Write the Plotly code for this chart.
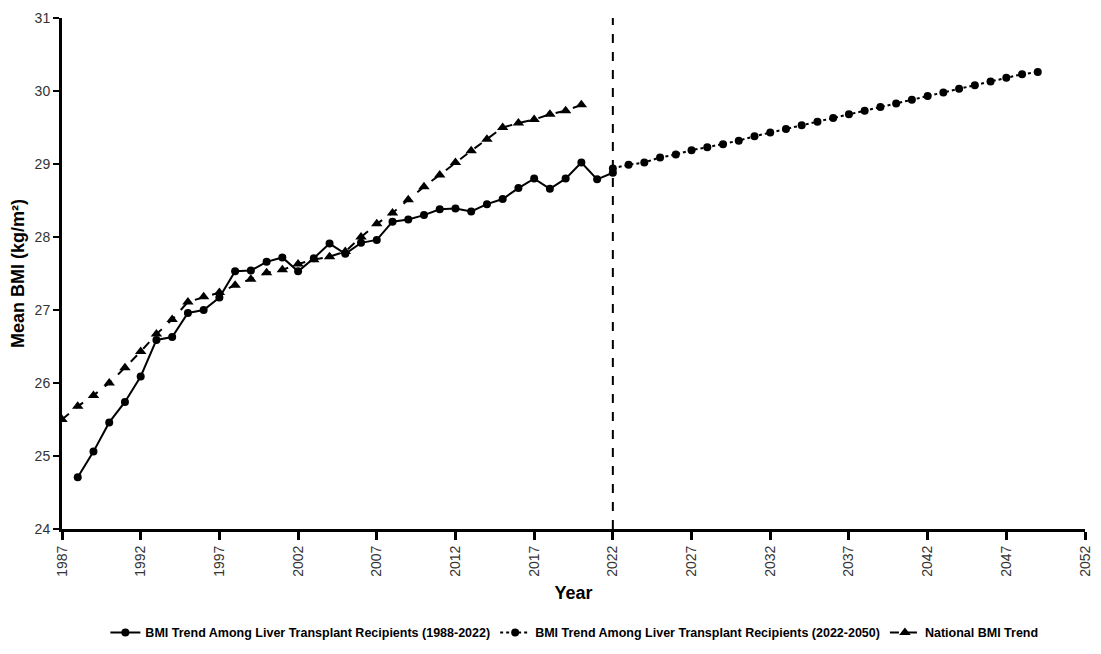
import plotly.graph_objects as go

# Liver transplant recipients (observed)
lt_years = list(range(1988, 2023))
lt_bmi = [24.71, 25.06, 25.46, 25.74, 26.09, 26.59, 26.63, 26.96, 27.00, 27.17,
          27.53, 27.54, 27.66, 27.72, 27.53, 27.71, 27.91, 27.77, 27.92, 27.96,
          28.21, 28.24, 28.30, 28.38, 28.39, 28.35, 28.45, 28.52, 28.67, 28.80,
          28.66, 28.80, 29.02, 28.79, 28.88]

# Projection
pr_years = list(range(2022, 2050))
pr_bmi = [28.94, 28.99, 29.02, 29.09, 29.13, 29.19, 29.23, 29.27, 29.32, 29.38,
          29.43, 29.48, 29.53, 29.58, 29.63, 29.68, 29.73, 29.78, 29.83, 29.88,
          29.93, 29.98, 30.03, 30.08, 30.13, 30.18, 30.23, 30.26]

# National trend
nat_years = list(range(1987, 2021))
nat_bmi = [25.50, 25.68, 25.83, 26.00, 26.21, 26.43, 26.67, 26.87, 27.11, 27.18,
           27.24, 27.34, 27.42, 27.51, 27.55, 27.63, 27.69, 27.73, 27.80, 28.00,
           28.18, 28.33, 28.51, 28.69, 28.85, 29.02, 29.18, 29.34, 29.50, 29.56,
           29.61, 29.68, 29.73, 29.81]

x_ticks = list(range(1987, 2053, 5))
y_ticks = list(range(24, 32))
cutoff_year = 2022

fig = go.Figure()
fig.add_trace(go.Scatter(
    x=lt_years, y=lt_bmi, mode="lines+markers",
    name="BMI Trend Among Liver Transplant Recipients (1988-2022)",
    line=dict(color="black", width=2),
    marker=dict(symbol="circle", size=8, color="black")))
fig.add_trace(go.Scatter(
    x=pr_years, y=pr_bmi, mode="lines+markers",
    name="BMI Trend Among Liver Transplant Recipients (2022-2050)",
    line=dict(color="black", width=2, dash="dot"),
    marker=dict(symbol="circle", size=8, color="black")))
fig.add_trace(go.Scatter(
    x=nat_years, y=nat_bmi, mode="lines+markers",
    name="National BMI Trend",
    line=dict(color="black", width=2, dash="dash"),
    marker=dict(symbol="triangle-up", size=10, color="black")))

fig.add_shape(type="line", x0=cutoff_year, x1=cutoff_year, y0=0, y1=1,
              xref="x", yref="paper",
              line=dict(color="black", width=2, dash="dash"))

axis_font = dict(family="Liberation Sans, Arial, sans-serif", size=14, color="#333333")
fig.update_layout(
    width=1085, height=638,
    margin=dict(l=54, r=8, t=10, b=117),
    plot_bgcolor="white", paper_bgcolor="white",
    font=dict(family="Liberation Sans, Arial, sans-serif", color="black"),
    showlegend=True,
    legend=dict(orientation="h", x=0.522, xanchor="center", xref="container",
                y=0.0204, yanchor="middle", yref="container",
                font=dict(family="Liberation Sans, Arial, sans-serif", size=12.5, color="black", weight="bold"),
                itemwidth=30, bgcolor="rgba(0,0,0,0)"),
    xaxis=dict(range=[1987, 2052], tickvals=x_ticks, ticktext=[str(v) for v in x_ticks],
               tickangle=-90, ticks="outside", ticklen=8, tickwidth=3, tickcolor="black",
               showline=True, linecolor="black", linewidth=3, showgrid=False, zeroline=False,
               tickfont=axis_font, automargin=False,
               title=dict(text="<b>Year</b>", font=dict(size=18, color="black"), standoff=11)),
    yaxis=dict(range=[24, 31], tickvals=y_ticks, ticks="outside", ticklen=6, tickwidth=2,
               tickcolor="black", showline=True, linecolor="black", linewidth=3,
               showgrid=False, zeroline=False, tickfont=axis_font, automargin=False,
               title=dict(text="<b>Mean BMI (kg/m²)</b>", font=dict(size=18, color="black"), standoff=8)),
)

fig.write_html("out.html")
